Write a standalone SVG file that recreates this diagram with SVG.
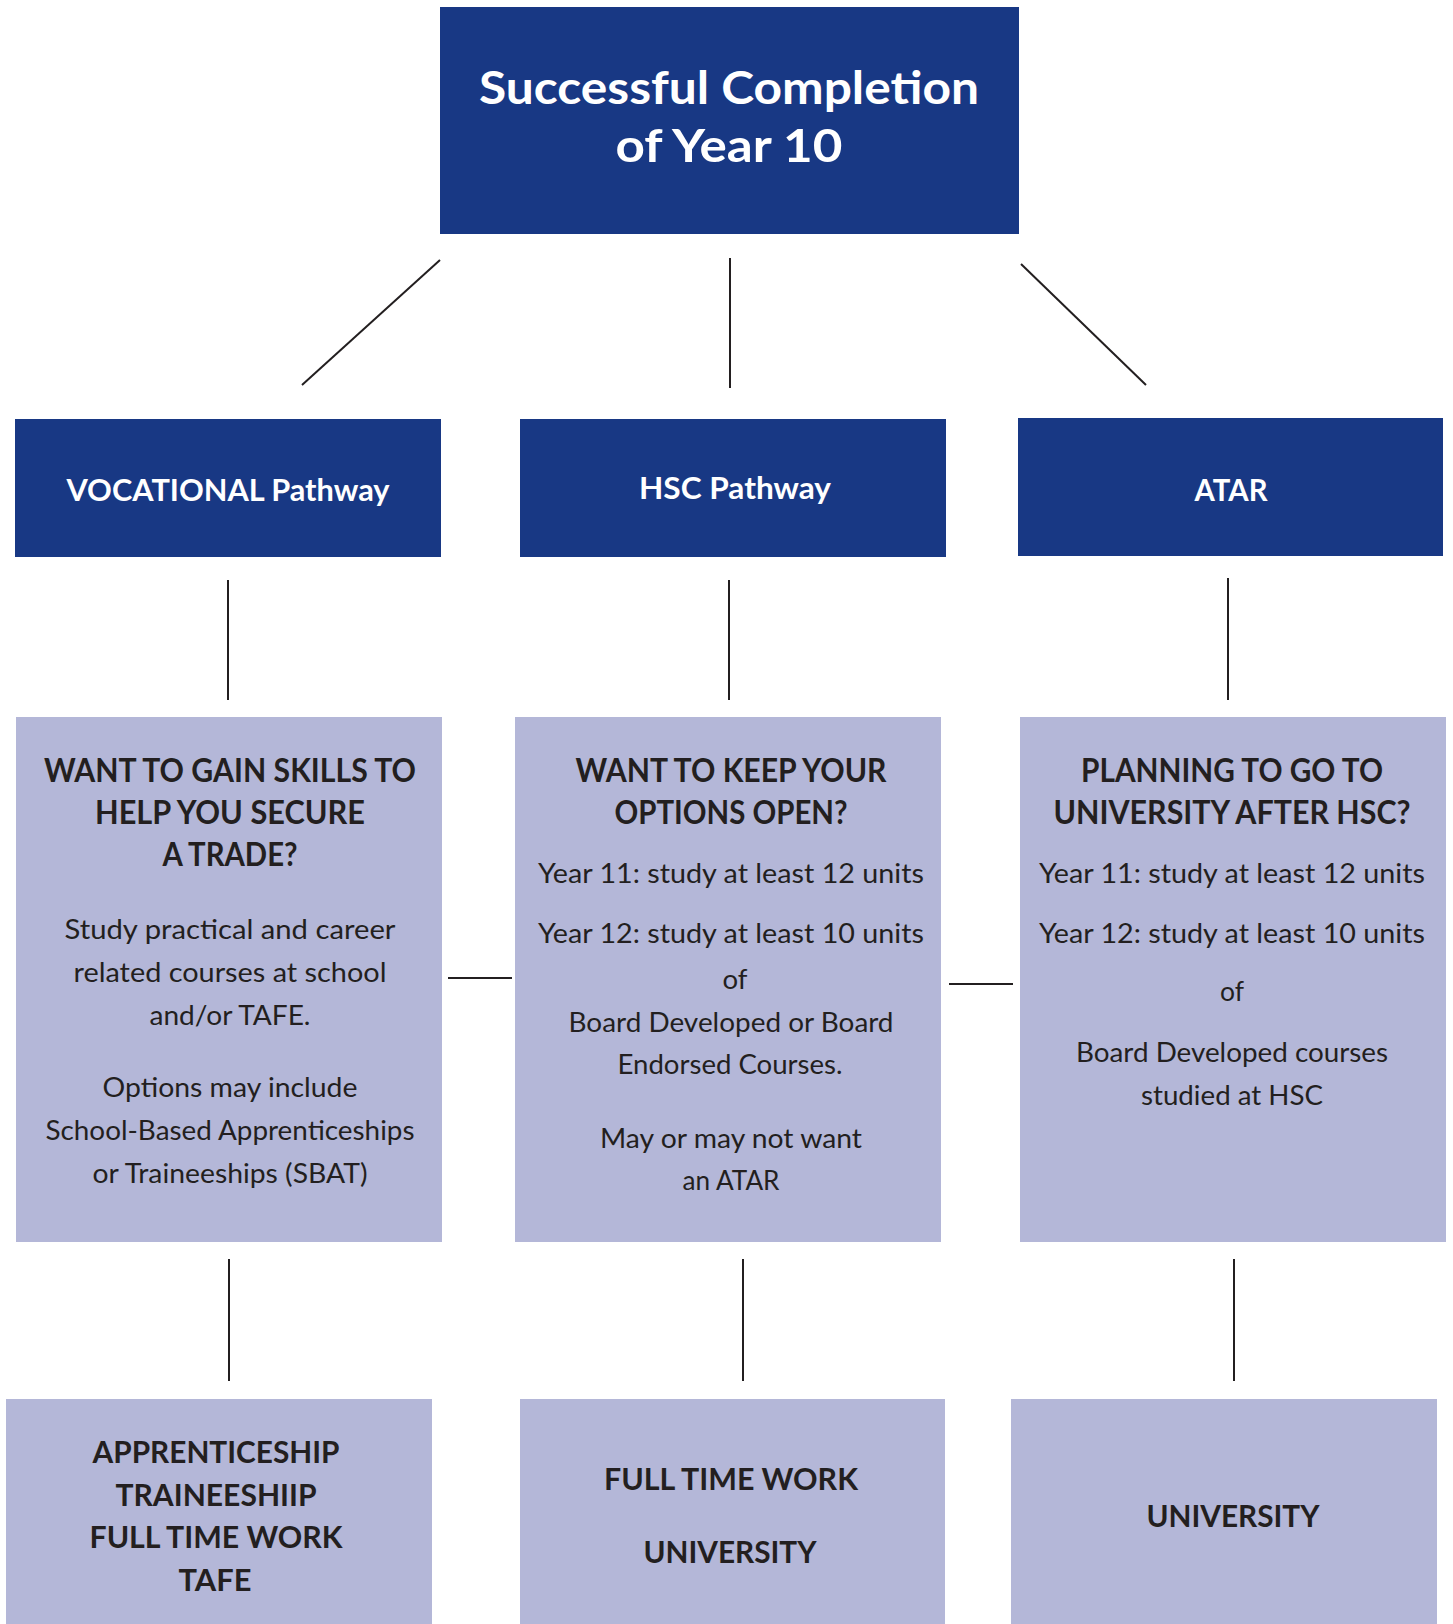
<svg xmlns="http://www.w3.org/2000/svg" width="1453" height="1624" viewBox="0 0 1453 1624">
<style>
.dark{fill:#183884}
.light{fill:#B4B7D8}
.wt{fill:#ffffff;font-family:Lato,"Liberation Sans",sans-serif;font-weight:bold;text-anchor:middle}
.hd{fill:#231F20;font-family:Lato,"Liberation Sans",sans-serif;font-weight:bold;font-size:32px;text-anchor:middle}
.tx{fill:#231F20;font-family:Lato,"Liberation Sans",sans-serif;font-size:27px;text-anchor:middle}
.bt{fill:#231F20;font-family:Lato,"Liberation Sans",sans-serif;font-weight:bold;font-size:31px;text-anchor:middle}
.ln{stroke:#231F20;stroke-width:2;fill:none}
</style>
<rect width="1453" height="1624" fill="#ffffff"/>
<g id="connectors">
<line class="ln" x1="440" y1="260" x2="302" y2="385"/>
<line class="ln" x1="730" y1="258" x2="730" y2="388"/>
<line class="ln" x1="1021" y1="264" x2="1146" y2="385"/>
<line class="ln" x1="228" y1="580" x2="228" y2="700"/>
<line class="ln" x1="729" y1="580" x2="729" y2="700"/>
<line class="ln" x1="1228" y1="578" x2="1228" y2="700"/>
<line class="ln" x1="448" y1="978" x2="512" y2="978"/>
<line class="ln" x1="949" y1="984" x2="1013" y2="984"/>
<line class="ln" x1="229" y1="1259" x2="229" y2="1381"/>
<line class="ln" x1="743" y1="1259" x2="743" y2="1381"/>
<line class="ln" x1="1234" y1="1259" x2="1234" y2="1381"/>
</g>
<g id="top">
<rect class="dark" x="440" y="7" width="579" height="227"/>
<text class="wt" x="729" y="104" font-size="46" textLength="500" lengthAdjust="spacingAndGlyphs">Successful Completion</text>
<text class="wt" x="729" y="162" font-size="46" textLength="227" lengthAdjust="spacingAndGlyphs">of Year 10</text>
</g>
<g id="vocational">
<rect class="dark" x="15" y="419" width="426" height="138"/>
<text class="wt" x="228" y="501" font-size="30" textLength="323" lengthAdjust="spacingAndGlyphs">VOCATIONAL Pathway</text>
</g>
<g id="hsc">
<rect class="dark" x="520" y="419" width="426" height="138"/>
<text class="wt" x="735" y="499" font-size="30" textLength="192" lengthAdjust="spacingAndGlyphs">HSC Pathway</text>
</g>
<g id="atar">
<rect class="dark" x="1018" y="418" width="425" height="138"/>
<text class="wt" x="1231" y="501" font-size="30" textLength="73" lengthAdjust="spacingAndGlyphs">ATAR</text>
</g>
<g id="trade">
<rect class="light" x="16" y="717" width="426" height="525"/>
<text class="hd" x="230" y="782" textLength="372" lengthAdjust="spacingAndGlyphs">WANT TO GAIN SKILLS TO</text>
<text class="hd" x="230" y="824" textLength="270" lengthAdjust="spacingAndGlyphs">HELP YOU SECURE</text>
<text class="hd" x="230" y="866" textLength="135" lengthAdjust="spacingAndGlyphs">A TRADE?</text>
<text class="tx" x="230" y="939" textLength="331" lengthAdjust="spacingAndGlyphs">Study practical and career</text>
<text class="tx" x="230" y="982" textLength="313" lengthAdjust="spacingAndGlyphs">related courses at school</text>
<text class="tx" x="230" y="1025" textLength="161" lengthAdjust="spacingAndGlyphs">and/or TAFE.</text>
<text class="tx" x="230" y="1097" textLength="255" lengthAdjust="spacingAndGlyphs">Options may include</text>
<text class="tx" x="230" y="1140" textLength="369" lengthAdjust="spacingAndGlyphs">School-Based Apprenticeships</text>
<text class="tx" x="230" y="1183" textLength="275" lengthAdjust="spacingAndGlyphs">or Traineeships (SBAT)</text>
</g>
<g id="options">
<rect class="light" x="515" y="717" width="426" height="525"/>
<text class="hd" x="731" y="782" textLength="311" lengthAdjust="spacingAndGlyphs">WANT TO KEEP YOUR</text>
<text class="hd" x="731" y="824" textLength="233" lengthAdjust="spacingAndGlyphs">OPTIONS OPEN?</text>
<text class="tx" x="731" y="883" textLength="386" lengthAdjust="spacingAndGlyphs">Year 11: study at least 12 units</text>
<text class="tx" x="731" y="943" textLength="386" lengthAdjust="spacingAndGlyphs">Year 12: study at least 10 units</text>
<text class="tx" x="735" y="989" textLength="25" lengthAdjust="spacingAndGlyphs">of</text>
<text class="tx" x="731" y="1032" textLength="325" lengthAdjust="spacingAndGlyphs">Board Developed or Board</text>
<text class="tx" x="730" y="1074" textLength="225" lengthAdjust="spacingAndGlyphs">Endorsed Courses.</text>
<text class="tx" x="731" y="1148" textLength="262" lengthAdjust="spacingAndGlyphs">May or may not want</text>
<text class="tx" x="731" y="1190" textLength="97" lengthAdjust="spacingAndGlyphs">an ATAR</text>
</g>
<g id="university-plan">
<rect class="light" x="1020" y="717" width="426" height="525"/>
<text class="hd" x="1232" y="782" textLength="302" lengthAdjust="spacingAndGlyphs">PLANNING TO GO TO</text>
<text class="hd" x="1232" y="824" textLength="357" lengthAdjust="spacingAndGlyphs">UNIVERSITY AFTER HSC?</text>
<text class="tx" x="1232" y="883" textLength="386" lengthAdjust="spacingAndGlyphs">Year 11: study at least 12 units</text>
<text class="tx" x="1232" y="943" textLength="386" lengthAdjust="spacingAndGlyphs">Year 12: study at least 10 units</text>
<text class="tx" x="1232" y="1001" textLength="24" lengthAdjust="spacingAndGlyphs">of</text>
<text class="tx" x="1232" y="1062" textLength="312" lengthAdjust="spacingAndGlyphs">Board Developed courses</text>
<text class="tx" x="1232" y="1105" textLength="182" lengthAdjust="spacingAndGlyphs">studied at HSC</text>
</g>
<g id="out-vocational">
<rect class="light" x="6" y="1399" width="426" height="225"/>
<text class="bt" x="216" y="1463" textLength="247" lengthAdjust="spacingAndGlyphs">APPRENTICESHIP</text>
<text class="bt" x="216" y="1506" textLength="201" lengthAdjust="spacingAndGlyphs">TRAINEESHIIP</text>
<text class="bt" x="216" y="1548" textLength="253" lengthAdjust="spacingAndGlyphs">FULL TIME WORK</text>
<text class="bt" x="215" y="1591" textLength="73" lengthAdjust="spacingAndGlyphs">TAFE</text>
</g>
<g id="out-hsc">
<rect class="light" x="520" y="1399" width="425" height="225"/>
<text class="bt" x="731" y="1490" textLength="254" lengthAdjust="spacingAndGlyphs">FULL TIME WORK</text>
<text class="bt" x="730" y="1563" textLength="173" lengthAdjust="spacingAndGlyphs">UNIVERSITY</text>
</g>
<g id="out-atar">
<rect class="light" x="1011" y="1399" width="426" height="225"/>
<text class="bt" x="1233" y="1527" textLength="173" lengthAdjust="spacingAndGlyphs">UNIVERSITY</text>
</g>
</svg>
